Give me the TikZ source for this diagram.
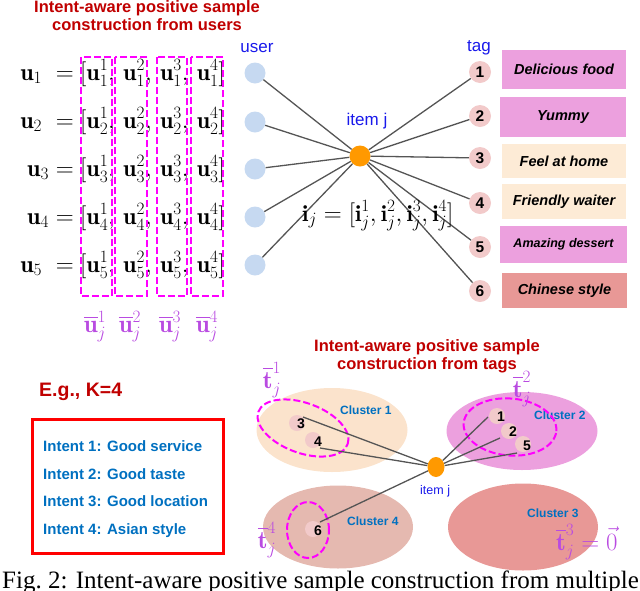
\documentclass[tikz,border=0pt]{standalone}
\usepackage{fontspec}
\usepackage{amsmath}
\usetikzlibrary{shapes.geometric}
\newfontfamily\lsans{Liberation Sans}
\newfontfamily\lserif{Liberation Serif}
\definecolor{darkred}{RGB}{192,0,0}
\definecolor{ublue}{RGB}{25,25,235}
\definecolor{cblue}{RGB}{0,112,192}
\definecolor{ulight}{RGB}{198,217,241}
\definecolor{orangeC}{RGB}{255,153,0}
\definecolor{tagpink}{RGB}{242,202,202}
\definecolor{magfill}{RGB}{236,160,222}
\definecolor{peach}{RGB}{253,235,214}
\definecolor{salmon}{RGB}{232,152,150}
\definecolor{clpeach}{RGB}{251,227,204}
\definecolor{clfour}{RGB}{229,185,176}
\definecolor{lab}{RGB}{185,75,225}
\definecolor{edgec}{RGB}{85,85,85}
\definecolor{dmag}{RGB}{255,0,255}
\newcommand{\cs}{,\mskip 3mu}
\tikzset{
  title/.style={font=\lsans\bfseries\fontsize{16.5}{19}\selectfont, text=darkred, inner sep=0, anchor=base},
  mrow/.style={font=\fontsize{24}{28}\selectfont, inner sep=0},
  olab/.style={font=\fontsize{25}{30}\selectfont, inner sep=0, text=lab, anchor=base},
  userc/.style={circle, fill=ulight, minimum size=21pt, inner sep=0},
  itemc/.style={circle, fill=orangeC, minimum size=21pt, inner sep=0},
  tagc/.style={circle, fill=tagpink, minimum size=22pt, inner sep=0, font=\lsans\bfseries\fontsize{15.5}{17}\selectfont},
  tagbox/.style={inner sep=0, font=\lsans\bfseries\itshape\fontsize{14.5}{17}\selectfont},
  link/.style={draw=edgec, line width=1.3pt},
  dashbox/.style={draw=dmag, line width=2pt, dash pattern=on 7pt off 3pt},
  blab/.style={text=ublue, font=\lsans\fontsize{17}{20}\selectfont, inner sep=0, anchor=base},
  cluster/.style={ellipse, inner sep=0},
  clab/.style={text=cblue, font=\lsans\bfseries\fontsize{12}{14}\selectfont, inner sep=0, anchor=base west},
  smallc/.style={circle, fill=tagpink, minimum size=16pt, inner sep=0},
  num/.style={font=\lsans\bfseries\fontsize{14}{16}\selectfont, inner sep=0},
  intent/.style={text=cblue, font=\lsans\bfseries\fontsize{15}{18}\selectfont, inner sep=0, anchor=base west},
}
\begin{document}
\begin{tikzpicture}[x=1pt,y=-1pt]
\useasboundingbox (0,0) rectangle (640,590);
\clip (0,0) rectangle (640,590);
% ---------- top title
\node[title] (t1a) at (147,12) {Intent-aware positive sample};
\node[title] (t1b) at (147,30.5) {construction from users};
% ---------- user rows
\node[mrow, anchor=base east] (l1) at (74,80) {$\mathbf{u}_1\;=$};
\node[mrow, anchor=base east] (l2) at (74,128) {$\mathbf{u}_2\;=$};
\node[mrow, anchor=base east] (l3) at (74,176) {$\mathbf{u}_3=$};
\node[mrow, anchor=base east] (l4) at (74,224) {$\mathbf{u}_4=$};
\node[mrow, anchor=base east] (l5) at (74,272) {$\mathbf{u}_5\;=$};
\node[mrow, anchor=base west] (r1) at (80,80) {$[\mathbf{u}^1_1\cs \mathbf{u}^2_1\cs \mathbf{u}^3_1\cs \mathbf{u}^4_1]$};
\node[mrow, anchor=base west] (r2) at (80,128) {$[\mathbf{u}^1_2\cs \mathbf{u}^2_2\cs \mathbf{u}^3_2\cs \mathbf{u}^4_2]$};
\node[mrow, anchor=base west] (r3) at (80,176) {$[\mathbf{u}^1_3\cs \mathbf{u}^2_3\cs \mathbf{u}^3_3\cs \mathbf{u}^4_3]$};
\node[mrow, anchor=base west] (r4) at (80,224) {$[\mathbf{u}^1_4\cs \mathbf{u}^2_4\cs \mathbf{u}^3_4\cs \mathbf{u}^4_4]$};
\node[mrow, anchor=base west] (r5) at (80,272) {$[\mathbf{u}^1_5\cs \mathbf{u}^2_5\cs \mathbf{u}^3_5\cs \mathbf{u}^4_5]$};
\draw[dashbox] (81,57) rectangle (112,296);
\draw[dashbox] (115,57) rectangle (147,296);
\draw[dashbox] (157,57) rectangle (187,296);
\draw[dashbox] (191,57) rectangle (223,296);
\node[olab] (ub1) at (95,332) {$\overline{\mathbf{u}}^1_j$};
\node[olab] (ub2) at (130,332) {$\overline{\mathbf{u}}^2_j$};
\node[olab] (ub3) at (170,332) {$\overline{\mathbf{u}}^3_j$};
\node[olab] (ub4) at (207,332) {$\overline{\mathbf{u}}^4_j$};
% ---------- graph
\node[blab] (userlab) at (257,52) {user};
\node[blab] (taglab) at (479,51) {tag};
\node[blab] (itemlab) at (367,125) {item j};
\node[userc] (u1) at (255,73) {};
\node[userc] (u2) at (255,122) {};
\node[userc] (u3) at (255,169) {};
\node[userc] (u4) at (255,217) {};
\node[userc] (u5) at (255,265) {};
\node[tagc] (g1) at (480,72) {1};
\node[tagc] (g2) at (480,116) {2};
\node[tagc] (g3) at (480,158) {3};
\node[tagc] (g4) at (480,203) {4};
\node[tagc] (g5) at (480,247) {5};
\node[tagc] (g6) at (480,291) {6};
\node[itemc] (item) at (360,156) {};
\foreach \n in {u1,u2,u3,u4,u5,g1,g2,g3,g4,g5,g6} \draw[link] (\n) -- (item);
\node[mrow, font=\fontsize{23}{28}\selectfont, anchor=base west] (ij) at (302,221) {$\mathbf{i}_j = [\mathbf{i}^1_j, \mathbf{i}^2_j, \mathbf{i}^3_j, \mathbf{i}^4_j]$};
\node[tagbox, fill=magfill, minimum width=124pt, minimum height=39pt] (b1) at (564,69.5) {Delicious food};
\node[tagbox, fill=magfill, minimum width=126pt, minimum height=40pt] (b2) at (563,117) {Yummy};
\node[tagbox, fill=peach, minimum width=124pt, minimum height=34pt] (b3) at (564,161) {Feel at home};
\node[tagbox, fill=peach, minimum width=124pt, minimum height=35pt] (b4) at (564,201.5) {Friendly waiter};
\node[tagbox, fill=magfill, minimum width=127pt, minimum height=37pt, font=\lsans\bfseries\itshape\fontsize{12.5}{15}\selectfont] (b5) at (563.5,244.5) {Amazing dessert};
\node[tagbox, fill=salmon, minimum width=125pt, minimum height=35pt] (b6) at (564.5,290.5) {Chinese style};
% ---------- bottom title
\node[title] (t2a) at (427,351) {Intent-aware positive sample};
\node[title] (t2b) at (427,369) {construction from tags};
% ---------- clusters
\node[cluster, fill=clpeach, minimum width=151pt, minimum height=84pt] (cl1) at (332,430) {};
\node[cluster, fill=magfill, minimum width=151pt, minimum height=78pt] (cl2) at (522,431) {};
\node[cluster, fill=clfour, minimum width=150pt, minimum height=83pt] (cl4) at (338,527) {};
\node[cluster, fill=salmon, minimum width=150pt, minimum height=87pt] (cl3) at (523,527) {};
\node[clab] (cl1lab) at (340,414) {Cluster 1};
\node[clab] (cl2lab) at (534,419) {Cluster 2};
\node[clab] (cl4lab) at (347,525) {Cluster 4};
\node[clab] (cl3lab) at (527,517) {Cluster 3};
\node[cluster, dashbox, minimum width=95pt, minimum height=50pt, rotate=-20] (d1) at (303,428) {};
\node[cluster, dashbox, minimum width=93pt, minimum height=57pt, rotate=-5] (d2) at (510,427) {};
\node[cluster, dashbox, minimum width=42pt, minimum height=56pt] (d4) at (308,530) {};
\node[smallc] (s3) at (297,423) {};
\node[smallc] (s4) at (313,440) {};
\node[smallc] (s1) at (497,416) {};
\node[smallc] (s2) at (509,431) {};
\node[smallc] (s5) at (523,444) {};
\node[smallc] (s6) at (313,529) {};
\coordinate (e3) at (303,417);
\coordinate (e4) at (320,448);
\coordinate (e1) at (488,417);
\coordinate (e2) at (500,438);
\coordinate (e5) at (517,453);
\coordinate (e6) at (320,522);
\node[ellipse, fill=orangeC, minimum width=17pt, minimum height=20pt, inner sep=0] (bi) at (436,467) {};
\foreach \e in {e1,e2,e3,e4,e5,e6} \draw[link] (\e) -- (bi);
\node[num] (n3) at (301,424) {3};
\node[num] (n4) at (318,442) {4};
\node[num] (n1) at (501,417) {1};
\node[num] (n2) at (513,432) {2};
\node[num] (n5) at (527,446) {5};
\node[num] (n6) at (318,531) {6};
\node[text=ublue, font=\lsans\fontsize{12.5}{15}\selectfont, inner sep=0, anchor=base west] (bilab) at (420,494) {item j};
\node[olab] (tb1) at (272,388) {$\overline{\mathbf{t}}^1_j$};
\node[olab] (tb2) at (522,397) {$\overline{\mathbf{t}}^2_j$};
\node[olab] (tb4) at (267,548) {$\overline{\mathbf{t}}^4_j$};
\node[olab, anchor=base west] (tb3) at (556,550) {$\overline{\mathbf{t}}^3_j = \vec{0}$};
% ---------- example box
\node[text=darkred, font=\lsans\bfseries\fontsize{19.5}{22}\selectfont, inner sep=0, anchor=base west] (eg) at (39,396) {E.g., K=4};
\node[draw=red, line width=3pt, minimum width=191pt, minimum height=134pt, inner sep=0] (ibox) at (127.5,486) {};
\node[intent] (i1) at (43,451) {Intent 1: Good service};
\node[intent] (i2) at (43,479) {Intent 2: Good taste};
\node[intent] (i3) at (43,506) {Intent 3: Good location};
\node[intent] (i4) at (43,534) {Intent 4: Asian style};
% ---------- caption
\node[font=\lserif\fontsize{25}{30}\selectfont, inner sep=0, anchor=base west] (cap) at (2,588) {Fig.~2: Intent-aware positive sample construction from multiple};
\end{tikzpicture}
\end{document}
